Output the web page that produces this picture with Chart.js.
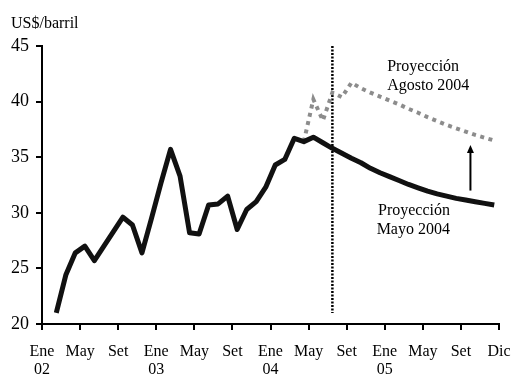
<!DOCTYPE html>
<html><head><meta charset="utf-8">
<script src="https://cdn.jsdelivr.net/npm/chart.js@4.4.1/dist/chart.umd.min.js"></script>
<style>html,body{margin:0;padding:0;background:#fff}#wrap{width:515px;height:378px;position:relative}</style>
</head><body><div id="wrap"><canvas id="c" width="515" height="378"></canvas></div>
<script>
// ---- data (months counted from the start of Ene 2002) ----
const unitLabel = 'US$/barril';
const xTickPositions = [0, 4, 8, 12, 16, 20, 24, 28, 32, 36, 40, 44, 48];
const xTickLabels = [['Ene','02'],['May'],['Set'],['Ene','03'],['May'],['Set'],['Ene','04'],['May'],['Set'],['Ene','05'],['May'],['Set'],['Dic']];
const yTickValues = [20, 25, 30, 35, 40, 45];

const observedMonths = [1.5, 2.5, 3.5, 4.5, 5.5, 6.5, 7.5, 8.5, 9.5, 10.5, 11.5, 12.5, 13.5, 14.5,
  15.5, 16.5, 17.5, 18.5, 19.5, 20.5, 21.5, 22.5, 23.5, 24.5, 25.5, 26.5, 27.5, 28.5];
const observedPrice = [21.0, 24.4, 26.4, 27.0, 25.7, 27.0, 28.3, 29.6, 28.9, 26.4, 29.5, 32.7, 35.7, 33.3,
  28.2, 28.1, 30.7, 30.8, 31.5, 28.5, 30.3, 31.0, 32.3, 34.3, 34.8, 36.7, 36.4, 36.8];

const mayMonths = [29.5, 30.5, 31.5, 32.5, 33.5, 34.5, 35.5, 36.5, 37.5, 38.5, 39.5, 40.5, 41.5, 42.5,
  43.5, 44.5, 45.5, 46.5, 47.5];
const mayProjection = [36.3, 35.8, 35.35, 34.9, 34.5, 34.0, 33.6, 33.25, 32.9, 32.55, 32.25, 31.95, 31.7, 31.5,
  31.3, 31.15, 31.0, 30.85, 30.7];

const augMonths = [27.5, 28.5, 29.5, 30.5, 31.5, 32.5, 33.5, 34.5, 35.5, 36.5, 37.5, 38.5, 39.5, 40.5,
  41.5, 42.5, 43.5, 44.5, 45.5, 46.5, 47.5];
const augProjection = [36.4, 40.2, 38.3, 40.8, 40.4, 41.7, 41.2, 40.8, 40.45, 40.1, 39.75, 39.35, 39.0, 38.6,
  38.25, 37.9, 37.6, 37.3, 37.0, 36.75, 36.5];

const cutoffMonth = [30.5, 30.5];
const cutoffValues = [45, 21];

const arrowMonth = [45, 45];
const arrowValues = [32.0, 36.1];

const noteAugust = ['Proyección', 'Agosto 2004'];
const noteMay = ['Proyección', 'Mayo 2004'];

// ---- layout / styling (not data) ----
const FONT = '"Liberation Serif", "Times New Roman", serif';
const notes = [
  { text: noteAugust[0], x: 36.25, y: 42.78, align: 'left' },
  { text: noteAugust[1], x: 36.25, y: 41.04, align: 'left' },
  { text: noteMay[0], x: 42.85, y: 29.8, align: 'right' },
  { text: noteMay[1], x: 42.85, y: 28.1, align: 'right' }
];

const pts = (xs, ys) => xs.map((m, i) => ({ x: m, y: ys[i] }));

const overlay = {
  id: 'overlay',
  afterDatasetsDraw(chart) {
    const { ctx, chartArea } = chart;
    const x = chart.scales.x, y = chart.scales.y;
    ctx.save();
    // arrow
    const ax = x.getPixelForValue(arrowMonth[0]);
    const y0 = y.getPixelForValue(arrowValues[0]);
    const y1 = y.getPixelForValue(arrowValues[1]);
    ctx.strokeStyle = '#000'; ctx.lineWidth = 2;
    ctx.beginPath(); ctx.moveTo(ax, y0); ctx.lineTo(ax, y1 + 6); ctx.stroke();
    ctx.fillStyle = '#000';
    ctx.beginPath(); ctx.moveTo(ax, y1); ctx.lineTo(ax - 3.5, y1 + 8); ctx.lineTo(ax + 3.5, y1 + 8); ctx.closePath(); ctx.fill();
    // notes
    ctx.font = '16px ' + FONT;
    ctx.textBaseline = 'alphabetic';
    notes.forEach(n => {
      ctx.textAlign = n.align;
      ctx.fillText(n.text, x.getPixelForValue(n.x), y.getPixelForValue(n.y));
    });
    // unit label
    ctx.textAlign = 'left';
    ctx.fillText(unitLabel, chartArea.left - 31, 28);
    ctx.restore();
  }
};

new Chart(document.getElementById('c'), {
  type: 'line',
  data: {
    datasets: [
      { label: 'Precio / Proyección Mayo 2004', data: pts(observedMonths.concat(mayMonths), observedPrice.concat(mayProjection)),
        borderColor: '#111', borderWidth: 5, pointRadius: 0, tension: 0, borderJoinStyle: 'round', borderCapStyle: 'butt' },
      { label: 'Proyección Agosto 2004', data: pts(augMonths, augProjection),
        borderColor: '#8c8c8c', borderWidth: 4, borderDash: [4, 4.5], pointRadius: 0, tension: 0, borderCapStyle: 'butt' },
      { label: 'corte', data: pts(cutoffMonth, cutoffValues),
        borderColor: '#000', borderWidth: 2.5, borderDash: [2, 1.5], pointRadius: 0 }
    ]
  },
  options: {
    responsive: false, animation: false, devicePixelRatio: 1,
    layout: { padding: { top: 46, right: 16, bottom: 0, left: 0 } },
    plugins: { legend: { display: false }, tooltip: { enabled: false }, title: { display: false } },
    scales: {
      x: {
        type: 'linear', min: 0, max: 48,
        afterBuildTicks: s => { s.ticks = xTickPositions.map(v => ({ value: v })); },
        afterFit: s => { s.height = 54; s.paddingLeft = 0; s.paddingRight = 0; },
        grid: { display: true, drawOnChartArea: false, drawTicks: true, tickLength: 6, color: '#000', lineWidth: 2 },
        border: { display: true, color: '#000', width: 2 },
        ticks: {
          color: '#000', padding: 13, maxRotation: 0, autoSkip: false,
          font: { family: FONT, size: 16, lineHeight: 1.12 },
          callback: (v, i) => xTickLabels[i]
        }
      },
      y: {
        type: 'linear', min: 20, max: 45,
        afterBuildTicks: s => { s.ticks = yTickValues.map(v => ({ value: v })); },
        afterFit: s => { s.width = 42; s.paddingTop = 0; s.paddingBottom = 0; },
        grid: { display: true, drawOnChartArea: false, drawTicks: true, tickLength: 6, color: '#000', lineWidth: 2 },
        border: { display: true, color: '#000', width: 2 },
        ticks: { color: '#000', padding: 7, font: { family: FONT, size: 18 } }
      }
    }
  },
  plugins: [overlay]
});
</script></body></html>
